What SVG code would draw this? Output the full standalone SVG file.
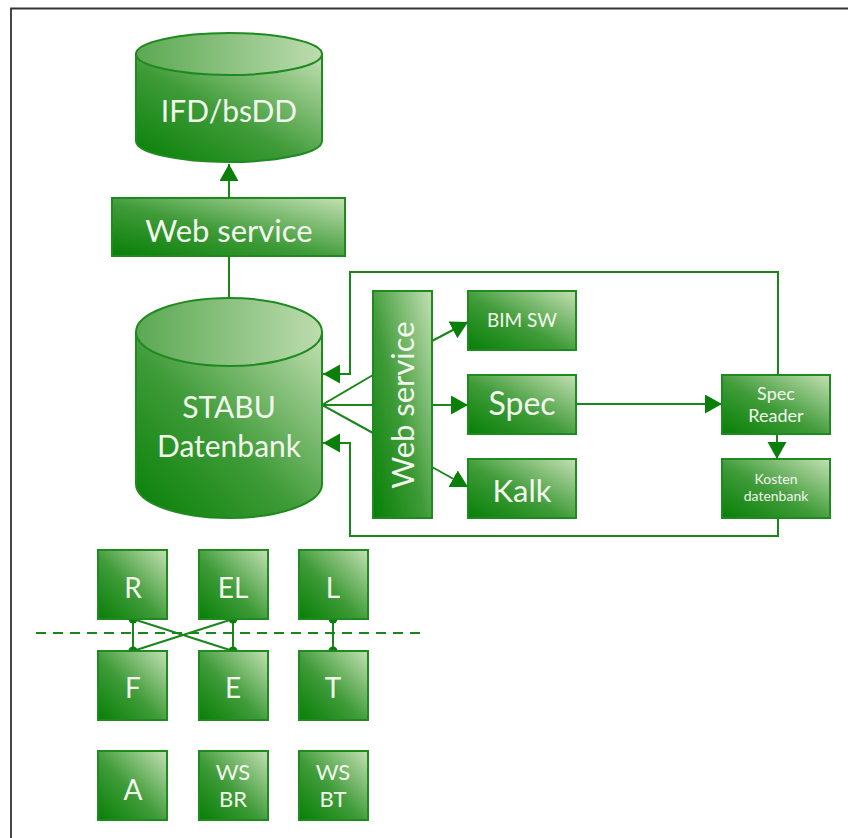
<svg xmlns="http://www.w3.org/2000/svg" width="848" height="838" viewBox="0 0 848 838">
<defs>
<linearGradient id="g" x1="0" y1="1" x2="1" y2="0">
<stop offset="0" stop-color="#067f06"/>
<stop offset="0.45" stop-color="#3f9b38"/>
<stop offset="1" stop-color="#c4e0b4"/>
</linearGradient>
<linearGradient id="gt" x1="0" y1="0.5" x2="1" y2="0.5">
<stop offset="0" stop-color="#5aa852"/>
<stop offset="1" stop-color="#bddcaf"/>
</linearGradient>
<marker id="ah" markerUnits="userSpaceOnUse" markerWidth="20" markerHeight="20" refX="17" refY="9.5" orient="auto">
<path d="M0,0 L17,9.5 L0,19 z" fill="#0a7f0a"/>
</marker>
<style>
.box{fill:url(#g);stroke:#1f8a1f;stroke-width:2}
.top{fill:url(#gt);stroke:#1f8a1f;stroke-width:2}
.ln{fill:none;stroke:#1a861a;stroke-width:2}
.t{fill:#f2f7ee;font-family:Lato,"Open Sans",sans-serif;text-anchor:middle}
.dot{fill:#0a7f0a}
</style>
</defs>
<rect width="848" height="838" fill="#fff"/>
<path d="M11,838 V8.5 H848" fill="none" stroke="#333" stroke-width="1.8"/>

<g id="connectors">
<line class="ln" x1="229" y1="198" x2="229" y2="164" marker-end="url(#ah)"/>
<line class="ln" x1="229" y1="256" x2="229" y2="298"/>
<polyline class="ln" points="373,375 322,405 373,433"/>
<line class="ln" x1="322" y1="405" x2="373" y2="405"/>
<line class="ln" x1="432" y1="341" x2="468" y2="322" marker-end="url(#ah)"/>
<line class="ln" x1="432" y1="405" x2="468" y2="405" marker-end="url(#ah)"/>
<line class="ln" x1="432" y1="467" x2="468" y2="487" marker-end="url(#ah)"/>
<line class="ln" x1="576" y1="404" x2="722" y2="404" marker-end="url(#ah)"/>
<line class="ln" x1="777" y1="434" x2="777" y2="459" marker-end="url(#ah)"/>
<polyline class="ln" points="778,375 778,272 350,272 350,374 323,374" marker-end="url(#ah)"/>
<polyline class="ln" points="778,518 778,536 350,536 350,443 323,443" marker-end="url(#ah)"/>
<line x1="36" y1="633" x2="426" y2="633" stroke="#1a861a" stroke-width="2" stroke-dasharray="10,7"/>
<line class="ln" x1="133" y1="619" x2="133" y2="651"/>
<line class="ln" x1="233" y1="619" x2="233" y2="651"/>
<line class="ln" x1="133" y1="619" x2="233" y2="651"/>
<line class="ln" x1="233" y1="619" x2="133" y2="651"/>
<line class="ln" x1="333" y1="619" x2="333" y2="651"/>
<circle class="dot" cx="133" cy="619" r="4.5"/>
<circle class="dot" cx="233" cy="619" r="4.5"/>
<circle class="dot" cx="133" cy="651" r="4.5"/>
<circle class="dot" cx="233" cy="651" r="4.5"/>
<circle class="dot" cx="333" cy="619" r="4.5"/>
<circle class="dot" cx="333" cy="651" r="4.5"/>
</g>

<g id="ifd">
<path class="box" d="M136,54 V141 A93,21 0 0 0 322,141 V54 Z"/>
<ellipse class="top" cx="229" cy="54" rx="93" ry="21"/>
<text class="t" x="229" y="122" font-size="30">IFD/bsDD</text>
</g>
<g id="ws1">
<rect class="box" x="112" y="198" width="233" height="58"/>
<text class="t" x="229" y="242" font-size="31">Web service</text>
</g>
<g id="stabu">
<path class="box" d="M136,332 V484 A93,34 0 0 0 322,484 V332 Z"/>
<ellipse class="top" cx="229" cy="332" rx="93" ry="34"/>
<text class="t" x="229" y="418" font-size="30">STABU</text>
<text class="t" x="229" y="457" font-size="30">Datenbank</text>
</g>
<g id="ws2">
<rect class="box" x="373" y="291" width="59" height="227"/>
<text class="t" x="403" y="416" font-size="31" transform="rotate(-90 403 405)">Web service</text>
</g>
<g id="bimsw">
<rect class="box" x="468" y="291" width="108" height="59"/>
<text class="t" x="522" y="327" font-size="19">BIM SW</text>
</g>
<g id="spec">
<rect class="box" x="468" y="375" width="108" height="59"/>
<text class="t" x="522" y="415" font-size="32">Spec</text>
</g>
<g id="kalk">
<rect class="box" x="468" y="459" width="108" height="59"/>
<text class="t" x="522" y="502" font-size="31">Kalk</text>
</g>
<g id="specreader">
<rect class="box" x="722" y="375" width="108" height="59"/>
<text class="t" x="776" y="400" font-size="18">Spec</text>
<text class="t" x="776" y="422" font-size="18">Reader</text>
</g>
<g id="kosten">
<rect class="box" x="722" y="459" width="108" height="59"/>
<text class="t" x="776" y="484" font-size="14">Kosten</text>
<text class="t" x="776" y="501" font-size="14">datenbank</text>
</g>
<g id="R"><rect class="box" x="98" y="550" width="69" height="69"/><text class="t" x="133" y="598" font-size="28">R</text></g>
<g id="EL"><rect class="box" x="199" y="550" width="69" height="69"/><text class="t" x="233" y="598" font-size="28">EL</text></g>
<g id="L"><rect class="box" x="299" y="550" width="69" height="69"/><text class="t" x="333" y="598" font-size="28">L</text></g>
<g id="F"><rect class="box" x="98" y="651" width="69" height="69"/><text class="t" x="133" y="698" font-size="28">F</text></g>
<g id="E"><rect class="box" x="199" y="651" width="69" height="69"/><text class="t" x="233" y="698" font-size="28">E</text></g>
<g id="T"><rect class="box" x="299" y="651" width="69" height="69"/><text class="t" x="333" y="698" font-size="28">T</text></g>
<g id="A"><rect class="box" x="98" y="751" width="69" height="69"/><text class="t" x="133" y="800" font-size="28">A</text></g>
<g id="WSBR"><rect class="box" x="199" y="751" width="69" height="69"/><text class="t" x="233" y="780" font-size="22">WS</text><text class="t" x="233" y="807" font-size="22">BR</text></g>
<g id="WSBT"><rect class="box" x="299" y="751" width="69" height="69"/><text class="t" x="333" y="780" font-size="22">WS</text><text class="t" x="333" y="807" font-size="22">BT</text></g>
</svg>
